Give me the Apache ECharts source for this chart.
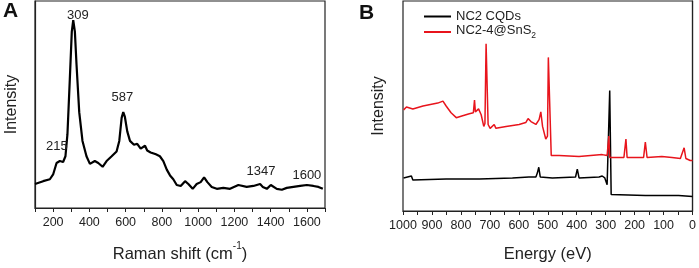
<!DOCTYPE html>
<html>
<head>
<meta charset="utf-8">
<script src="https://cdn.jsdelivr.net/npm/echarts@6/dist/echarts.min.js"></script>
<style>
  html, body { margin: 0; padding: 0; background: #fff; }
  #chart { width: 699px; height: 268px; }
</style>
</head>
<body>
<div id="chart"></div>
<script>
// panel A: Raman spectrum
var ramanShift = [100,145,182,200,219,237,255,268,279,292,303,311,320,329,344,362,384,403,430,449,
  473,495,523,550,565,578,587,596,609,624,646,664,683,694,707,719,738,767,789,808,
  827,845,863,882,904,928,946,970,992,1014,1033,1051,1075,1103,1139,1176,1222,1268,1305,1342,
  1357,1379,1401,1434,1462,1489,1526,1563,1600,1636,1664,1688];
var ramanIntensity = [25,28,30,35,47,49,48,54,77,134,184,196,184,150,100,70,54,46,49,47,
  43,49,54,59,70,94,100,95,80,70,66,67,62,60,65,60,58,56,54,49,
  40,34,30,24,23,28,25,20,25,27,32,27,22,20,21,20,24,22,23,25,
  22,20,24,20,19,21,22,23,24,23,22,20];
var ramanPeaks = [215, 309, 587, 1347, 1600];
var ramanTicks = [200, 400, 600, 800, 1000, 1200, 1400, 1600];

// panel B: XPS survey
var sampleNames = ['NC2 CQDs', 'NC2-4@SnS2'];
var cqdEnergy = [998,971,966,851,736,622,565,541,536,531,526,484,404,398,392,323,312,303,295,289,286,282,281,278,163,48,0];
var cqdIntensity = [34,36,32,33,33,34,35,35,39,45,35,34,35,43,34,35,36,34,27,25,124,124,17,16,16,16,15];
var snsEnergy = [998,988,966,931,897,880,862,851,834,816,794,771,757,753,750,739,730,721,717,713,
  711,706,699,685,679,644,599,576,568,558,541,530,524,518,507,501,498,493,488,484,
  461,392,312,295,289,286,278,237,230,226,169,163,157,106,71,42,29,23,8,0];
var snsIntensity = [104,107,105,108,110,111,113,108,101,96,98,100,101,114,102,105,99,87,90,172,
  172,89,85,89,85,87,89,91,95,92,89,94,102,87,74,77,158,158,57,56,
  57,56,58,57,77,55,55,55,74,55,55,71,55,56,55,54,65,54,52,52];

function pairs(xs, ys) {
  return xs.map(function (x, i) { return [x, ys[i]]; });
}
function interp(xs, ys, x) {
  for (var i = 1; i < xs.length; i++) {
    if (x <= xs[i]) {
      var t = (x - xs[i - 1]) / (xs[i] - xs[i - 1]);
      return ys[i - 1] + t * (ys[i] - ys[i - 1]);
    }
  }
  return ys[ys.length - 1];
}

var FONT = 'Liberation Sans, Arial, sans-serif';
var INK = '#222';
// label nudges for peak annotations (px)
var peakOffsets = { 215: [1, -19], 309: [5, -8], 587: [-1, -15], 1347: [0, -14], 1600: [0, -10] };

var chart = echarts.init(document.getElementById('chart'));

var axisCommon = {
  axisLine: { lineStyle: { color: INK, width: 1.2 } },
  splitLine: { show: false }
};

chart.setOption({
  animation: false,
  textStyle: { fontFamily: FONT },
  graphic: [
    { type: 'text', left: 3, top: 1, style: { text: 'A', font: 'bold 21px ' + FONT, fill: '#111' } },
    { type: 'text', left: 359, top: 3, style: { text: 'B', font: 'bold 21px ' + FONT, fill: '#111' } }
  ],
  legend: {
    data: sampleNames,
    orient: 'vertical',
    left: 419,
    top: 5,
    itemWidth: 27,
    itemHeight: 10,
    itemGap: 1,
    icon: 'path://M0,4L27,4L27,6L0,6Z',
    formatter: function (name) {
      return name === 'NC2-4@SnS2' ? '{n|NC2-4@SnS}{sub|2}' : '{n|' + name + '}';
    },
    textStyle: {
      color: INK,
      fontFamily: FONT,
      rich: {
        n: { fontSize: 13, color: INK, fontFamily: FONT, verticalAlign: 'top', lineHeight: 13 },
        sub: { fontSize: 8.5, color: INK, fontFamily: FONT, verticalAlign: 'bottom', lineHeight: 16 }
      }
    }
  },
  grid: [
    { left: 35, right: 374, top: 1, bottom: 51, show: true, borderColor: INK, borderWidth: 1.2 },
    { left: 403, right: 5, top: 1, bottom: 51, show: true, borderColor: INK, borderWidth: 1.2 }
  ],
  xAxis: [
    Object.assign({}, axisCommon, {
      gridIndex: 0, type: 'value', min: 100, max: 1700, interval: 100,
      axisTick: { show: true, length: 4, lineStyle: { color: INK } },
      axisLabel: {
        color: INK, fontSize: 12.5, margin: 8, fontFamily: FONT,
        showMinLabel: true, showMaxLabel: true,
        formatter: function (v) { return ramanTicks.indexOf(v) >= 0 ? String(v) : ''; }
      },
      name: '{n|Raman shift (cm}{sup|-1}{n|)}',
      nameLocation: 'middle', nameGap: 33,
      nameTextStyle: {
        rich: {
          n: { fontSize: 16.5, color: INK, fontFamily: FONT, verticalAlign: 'bottom', lineHeight: 22 },
          sup: { fontSize: 10, color: INK, fontFamily: FONT, verticalAlign: 'top', lineHeight: 22 }
        }
      }
    }),
    Object.assign({}, axisCommon, {
      gridIndex: 1, type: 'value', min: 0, max: 1000, interval: 50, inverse: true,
      axisTick: { show: true, length: 4, lineStyle: { color: INK } },
      axisLabel: {
        color: INK, fontSize: 12.5, margin: 8, fontFamily: FONT,
        showMinLabel: true, showMaxLabel: true,
        formatter: function (v) { return v % 100 === 0 ? String(v) : ''; }
      },
      name: 'Energy (eV)',
      nameLocation: 'middle', nameGap: 35,
      nameTextStyle: { fontSize: 16.5, color: INK, fontFamily: FONT }
    })
  ],
  yAxis: [
    Object.assign({}, axisCommon, {
      gridIndex: 0, type: 'value', min: 0, max: 216,
      axisTick: { show: false }, axisLabel: { show: false },
      name: 'Intensity', nameLocation: 'middle', nameGap: 15,
      nameTextStyle: { fontSize: 16, color: INK, fontFamily: FONT }
    }),
    Object.assign({}, axisCommon, {
      gridIndex: 1, type: 'value', min: 0, max: 216,
      axisTick: { show: false }, axisLabel: { show: false },
      name: 'Intensity', nameLocation: 'middle', nameGap: 16,
      nameTextStyle: { fontSize: 16, color: INK, fontFamily: FONT }
    })
  ],
  series: [
    {
      name: 'Raman',
      type: 'line',
      xAxisIndex: 0, yAxisIndex: 0,
      symbol: 'none',
      lineStyle: { color: '#000', width: 2.2 },
      data: pairs(ramanShift, ramanIntensity),
      markPoint: {
        symbol: 'circle',
        symbolSize: 1,
        itemStyle: { color: 'rgba(0,0,0,0)' },
        label: { show: true, position: 'inside', color: INK, fontSize: 13, fontFamily: FONT },
        data: ramanPeaks.map(function (p) {
          return {
            coord: [p, interp(ramanShift, ramanIntensity, p)],
            value: p,
            label: { offset: peakOffsets[p], formatter: String(p) }
          };
        })
      }
    },
    {
      name: sampleNames[0],
      type: 'line',
      xAxisIndex: 1, yAxisIndex: 1,
      symbol: 'none',
      itemStyle: { color: '#000' },
      lineStyle: { color: '#000', width: 1.5 },
      data: pairs(cqdEnergy, cqdIntensity)
    },
    {
      name: sampleNames[1],
      type: 'line',
      xAxisIndex: 1, yAxisIndex: 1,
      symbol: 'none',
      itemStyle: { color: '#e8141c' },
      lineStyle: { color: '#e8141c', width: 1.5 },
      data: pairs(snsEnergy, snsIntensity)
    }
  ]
});
</script>
</body>
</html>
